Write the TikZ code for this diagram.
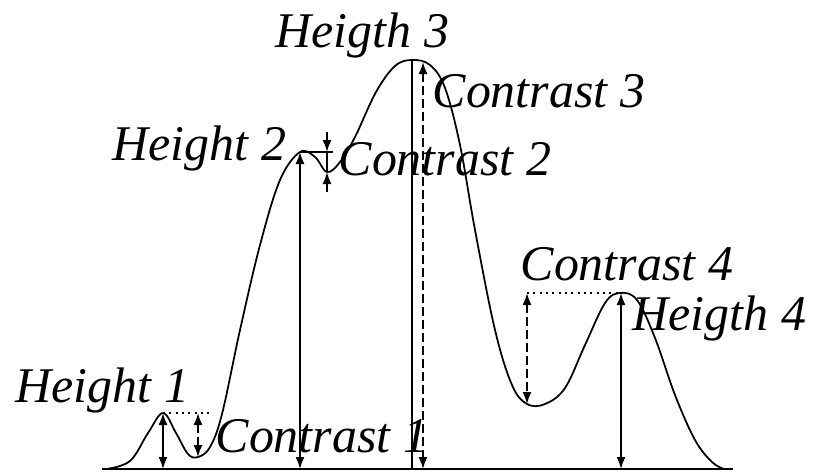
\documentclass[tikz,border=0pt]{standalone}
\usepackage{fontspec}
\setmainfont{Liberation Serif}
\usetikzlibrary{arrows.meta, positioning}

\begin{document}
\begin{tikzpicture}[x=0.01cm, y=-0.01cm,
  font=\fontsize{14.2}{17}\selectfont\itshape,
  lbl/.style={anchor=base west, inner sep=0pt},
  dimline/.style={{Latex[length=1.2mm,width=0.9mm]}-{Latex[length=1.2mm,width=0.9mm]}, line width=0.5pt},
  dimdash/.style={dimline, dash pattern=on 2.4pt off 1.3pt},
  onetip/.style={-{Latex[length=1.2mm,width=0.9mm]}, line width=0.5pt},
  guide/.style={line width=0.5pt, dash pattern=on 0.6pt off 1.2pt}
]
\useasboundingbox (0,0) rectangle (813,472);

% base and profile
\coordinate (left) at (102,469);
\coordinate (right) at (733,469);
\draw[line width=0.6pt] (left) -- (right);
\draw[line width=0.5pt] plot[smooth, tension=0.6] coordinates {
  (106,469) (130,461) (148,433) (163,413) (176,433) (188,454) (198,457)
  (210,447) (222,414) (240,330) (260,245) (280,180) (300,152) (315,157)
  (327,172) (340,162) (355,137) (376,92) (395,66) (412,60) (430,65)
  (445,88) (460,145) (475,230) (495,330) (512,385) (527,404) (545,404)
  (565,388) (585,345) (605,303) (620,293) (637,300) (655,338) (675,395)
  (695,440) (712,462) (724,469)};

% peaks, dips and feet
\coordinate (p1) at (163,413);
\coordinate (b1) at (163,469);
\coordinate (e1) at (210,413);
\coordinate (t1) at (198,413);
\coordinate (d1) at (198,457);
\coordinate (p2) at (300,152);
\coordinate (b2) at (300,469);
\coordinate (e2) at (333,152);
\coordinate (t2) at (327,152);
\coordinate (d2) at (327,172);
\coordinate (a2) at (327,132);
\coordinate (z2) at (327,192);
\coordinate (p3) at (412,60);
\coordinate (b3) at (412,469);
\coordinate (t3) at (423,62);
\coordinate (d3) at (423,469);
\coordinate (p4) at (621,293);
\coordinate (b4) at (621,469);
\coordinate (t4) at (527,293);
\coordinate (d4) at (527,404);

\draw[dimline] (p1) -- (b1);
\draw[guide] (p1) -- (e1);
\draw[dimdash] (t1) -- (d1);

\draw[dimline] (p2) -- (b2);
\draw[line width=0.5pt] (p2) -- (e2);
\draw[line width=0.5pt] (t2) -- (d2);
\draw[onetip] (a2) -- (t2);
\draw[onetip] (z2) -- (d2);

\draw[line width=0.5pt] (p3) -- (b3);
\draw[dimdash] (t3) -- (d3);

\draw[guide] (t4) -- (p4);
\draw[dimdash] (t4) -- (d4);
\draw[dimline] (p4) -- (b4);

% labels
\node[lbl] (h1) at (15,402) {Height 1};
\node[lbl] (c1) at (215,452) {Contrast 1};
\node[lbl] (h2) at (112,160) {Height 2};
\node[lbl] (c2) at (338,175) {Contrast 2};
\node[lbl] (h3) at (275,47) {Heigth 3};
\node[lbl] (c3) at (432,107) {Contrast 3};
\node[lbl] (c4) at (520,280) {Contrast 4};
\node[lbl] (h4) at (632,330) {Heigth 4};
\end{tikzpicture}
\end{document}
